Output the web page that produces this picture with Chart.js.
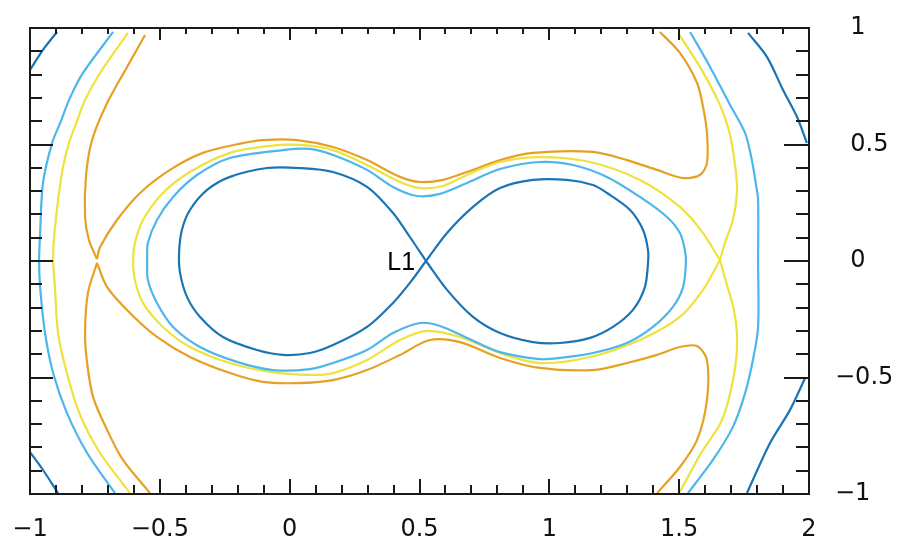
<!DOCTYPE html>
<html>
<head>
<meta charset="utf-8">
<script src="https://cdn.jsdelivr.net/npm/chart.js@4.4.1/dist/chart.umd.min.js"></script>
<style>
html,body{margin:0;padding:0;background:#fff;}
#wrap{width:898px;height:543px;}
</style>
</head>
<body>
<div id="wrap"><canvas id="c" width="898" height="543"></canvas></div>
<script>
// ---- axis ticks ----
const xTickValues = [-1, -0.5, 0, 0.5, 1, 1.5, 2];
const yTickValues = [-1, -0.5, 0, 0.5, 1];

// ---- annotation ----
const l1Label = "L1";
const l1LabelPos = [0.483, 0.0];

// ---- contour level 1 (dark blue) ----
const darkFigureEight = [[0.525,0.000],[0.463,0.103],[0.398,0.206],[0.298,0.318],[0.167,0.382],[0.040,0.399],[-0.087,0.399],[-0.230,0.361],[-0.318,0.305],[-0.384,0.219],[-0.415,0.133],[-0.426,0.034],[-0.422,-0.052],[-0.395,-0.155],[-0.345,-0.240],[-0.257,-0.326],[-0.126,-0.382],[-0.026,-0.403],[0.078,-0.395],[0.167,-0.361],[0.298,-0.283],[0.398,-0.180],[0.463,-0.094],[0.525,0.000],[0.606,0.120],[0.706,0.232],[0.810,0.313],[0.937,0.348],[1.068,0.348],[1.168,0.326],[1.222,0.292],[1.311,0.219],[1.361,0.133],[1.380,0.047],[1.380,-0.009],[1.368,-0.112],[1.322,-0.210],[1.245,-0.283],[1.157,-0.330],[1.041,-0.352],[0.937,-0.348],[0.810,-0.309],[0.706,-0.240],[0.606,-0.124],[0.525,0.000]];
const darkTopLeft = [[-0.896,0.983],[-0.950,0.906],[-1.0,0.820]];
const darkBottomLeft = [[-1.0,-0.820],[-0.950,-0.897],[-0.892,-0.996]];
const darkTopRight = [[1.765,0.979],[1.838,0.876],[1.900,0.734],[1.954,0.618],[1.992,0.506]];
const darkBottomRight = [[1.985,-0.502],[1.927,-0.639],[1.850,-0.781],[1.761,-0.996]];

// ---- contour level 2 (light blue) ----
const lightInner = [[-0.549,0.004],[-0.546,0.077],[-0.511,0.176],[-0.449,0.275],[-0.357,0.369],[-0.230,0.442],[-0.026,0.476],[0.078,0.481],[0.167,0.455],[0.298,0.391],[0.398,0.318],[0.490,0.279],[0.579,0.288],[0.683,0.335],[0.810,0.395],[0.964,0.425],[1.091,0.412],[1.222,0.361],[1.349,0.275],[1.453,0.189],[1.503,0.120],[1.522,0.047],[1.526,-0.009],[1.515,-0.112],[1.476,-0.197],[1.399,-0.283],[1.299,-0.352],[1.168,-0.395],[1.041,-0.416],[0.964,-0.421],[0.810,-0.391],[0.683,-0.330],[0.579,-0.279],[0.502,-0.266],[0.398,-0.309],[0.298,-0.382],[0.167,-0.438],[0.078,-0.464],[-0.064,-0.468],[-0.203,-0.433],[-0.345,-0.369],[-0.449,-0.283],[-0.511,-0.180],[-0.546,-0.082],[-0.549,0.004]];
const lightOuterLeft = [[-0.680,0.983],[-0.796,0.807],[-0.846,0.700],[-0.884,0.592],[-0.915,0.506],[-0.950,0.335],[-0.961,0.120],[-0.965,0.004],[-0.961,-0.112],[-0.942,-0.309],[-0.911,-0.481],[-0.858,-0.652],[-0.780,-0.824],[-0.673,-0.996]];
const lightOuterRight = [[1.542,0.983],[1.619,0.833],[1.696,0.670],[1.754,0.549],[1.780,0.433],[1.796,0.326],[1.804,0.262],[1.804,0.004],[1.804,-0.283],[1.784,-0.425],[1.754,-0.567],[1.707,-0.712],[1.630,-0.854],[1.534,-0.996]];

// ---- contour level 3 (yellow) ----
const yellowInner = [[1.657,0.004],[1.592,0.120],[1.503,0.232],[1.349,0.348],[1.157,0.425],[0.964,0.446],[0.810,0.425],[0.683,0.369],[0.590,0.322],[0.502,0.313],[0.425,0.339],[0.298,0.412],[0.167,0.476],[0.040,0.498],[-0.076,0.494],[-0.230,0.464],[-0.384,0.382],[-0.488,0.292],[-0.565,0.176],[-0.596,0.077],[-0.603,0.004],[-0.596,-0.082],[-0.565,-0.180],[-0.488,-0.283],[-0.384,-0.369],[-0.230,-0.438],[-0.076,-0.476],[0.078,-0.489],[0.167,-0.481],[0.298,-0.425],[0.425,-0.339],[0.529,-0.300],[0.656,-0.326],[0.810,-0.395],[0.964,-0.438],[1.157,-0.412],[1.349,-0.339],[1.503,-0.240],[1.592,-0.124],[1.657,0.004]];
const yellowOuterLeft = [[-0.623,0.979],[-0.730,0.807],[-0.788,0.691],[-0.822,0.592],[-0.850,0.506],[-0.877,0.378],[-0.906,0.120],[-0.911,0.004],[-0.904,-0.112],[-0.892,-0.309],[-0.858,-0.481],[-0.807,-0.661],[-0.730,-0.824],[-0.615,-0.996]];
const yellowOuterRightTop = [[1.496,0.979],[1.580,0.833],[1.657,0.670],[1.696,0.541],[1.715,0.412],[1.723,0.305],[1.707,0.176],[1.676,0.077],[1.657,0.004]];
const yellowOuterRightBottom = [[1.657,0.004],[1.684,-0.103],[1.711,-0.210],[1.723,-0.339],[1.711,-0.489],[1.665,-0.682],[1.580,-0.833],[1.503,-0.991]];

// ---- contour level 4 (orange) ----
const orangeOuterLeftTop = [[-0.557,0.970],[-0.626,0.833],[-0.703,0.678],[-0.761,0.519],[-0.784,0.369],[-0.788,0.189],[-0.773,0.090],[-0.742,0.008]];
const orangeOuterLeftBottom = [[-0.742,-0.008],[-0.777,-0.137],[-0.788,-0.309],[-0.780,-0.438],[-0.757,-0.584],[-0.703,-0.725],[-0.642,-0.854],[-0.538,-0.996]];
const orangeTop = [[-0.742,0.008],[-0.730,0.060],[-0.665,0.176],[-0.576,0.292],[-0.461,0.391],[-0.334,0.464],[-0.180,0.506],[-0.103,0.519],[0.028,0.519],[0.167,0.489],[0.298,0.433],[0.425,0.361],[0.502,0.339],[0.590,0.348],[0.683,0.382],[0.810,0.433],[0.937,0.464],[1.168,0.468],[1.299,0.433],[1.415,0.391],[1.515,0.356],[1.580,0.369],[1.607,0.421],[1.607,0.549],[1.592,0.661],[1.569,0.764],[1.503,0.893],[1.426,0.983]];
const orangeBottom = [[-0.742,-0.008],[-0.703,-0.112],[-0.615,-0.223],[-0.511,-0.326],[-0.384,-0.412],[-0.230,-0.481],[-0.103,-0.519],[0.028,-0.524],[0.167,-0.511],[0.298,-0.468],[0.425,-0.403],[0.540,-0.339],[0.656,-0.348],[0.810,-0.416],[0.964,-0.459],[1.168,-0.468],[1.299,-0.438],[1.415,-0.403],[1.503,-0.369],[1.569,-0.365],[1.607,-0.425],[1.607,-0.597],[1.569,-0.768],[1.503,-0.884],[1.415,-0.996]];

const COLORS = {dark:'#1b74b4', light:'#4db6ea', yellow:'#eee23e', orange:'#e6a124'};

const curves = [
  [darkFigureEight,'dark'],[darkTopLeft,'dark'],[darkBottomLeft,'dark'],[darkTopRight,'dark'],[darkBottomRight,'dark'],
  [lightInner,'light'],[lightOuterLeft,'light'],[lightOuterRight,'light'],
  [yellowInner,'yellow'],[yellowOuterLeft,'yellow'],[yellowOuterRightTop,'yellow'],[yellowOuterRightBottom,'yellow'],
  [orangeOuterLeftTop,'orange'],[orangeOuterLeftBottom,'orange'],[orangeTop,'orange'],[orangeBottom,'orange']
];

const datasets = curves.map(([pts,c]) => ({
  data: pts.map(p => ({x:p[0], y:p[1]})),
  showLine: true,
  borderColor: COLORS[c],
  borderWidth: 2.2,
  pointRadius: 0,
  tension: 0.3,
  fill: false
}));

const fmtX = v => (v < 0 ? '\u2212' : '') + Math.abs(v);
const fmtY = v => (v < 0 ? '\u2212' : '\u2007') + Math.abs(v);

const frameTicks = {
  id: 'frameTicks',
  afterDatasetsDraw(chart) {
    const ctx = chart.ctx, xs = chart.scales.x, ys = chart.scales.y, a = chart.chartArea;
    ctx.save();
    ctx.strokeStyle = '#1a1a1a';
    ctx.lineWidth = 2;
    ctx.strokeRect(a.left, a.top, a.right - a.left, a.bottom - a.top);
    ctx.beginPath();
    for (let i = 0; i <= 30; i++) {
      const v = xs.min + i * 0.1;
      const major = i % 5 === 0;
      const px = Math.round(xs.getPixelForValue(v));
      ctx.moveTo(px, a.top); ctx.lineTo(px, a.top + (major ? 12 : 6));
      ctx.moveTo(px, a.bottom); ctx.lineTo(px, a.bottom - (major ? 15 : 9));
    }
    for (let i = 0; i <= 20; i++) {
      const v = ys.min + i * 0.1;
      const major = i % 5 === 0;
      const py = Math.round(ys.getPixelForValue(v));
      ctx.moveTo(a.left, py); ctx.lineTo(a.left + (major ? 23 : 12), py);
      ctx.moveTo(a.right, py); ctx.lineTo(a.right - (major ? 25 : 13), py);
    }
    ctx.stroke();
    // L1 annotation
    ctx.fillStyle = '#000';
    ctx.font = '25px "Liberation Sans", Arial, sans-serif';
    ctx.textAlign = 'right';
    ctx.textBaseline = 'middle';
    ctx.fillText(l1Label, xs.getPixelForValue(l1LabelPos[0]), ys.getPixelForValue(l1LabelPos[1]) + 2);
    ctx.restore();
  }
};

new Chart(document.getElementById('c'), {
  type: 'scatter',
  data: { datasets },
  options: {
    responsive: false,
    animation: false,
    devicePixelRatio: 1,
    layout: { padding: { left: 30, top: 28, right: 0, bottom: 0 } },
    plugins: { legend: { display: false }, tooltip: { enabled: false } },
    scales: {
      x: {
        type: 'linear', position: 'bottom', min: -1, max: 2,
        afterBuildTicks: s => { s.ticks = xTickValues.map(v => ({value: v})); },
        afterFit: s => { s.height = 49; s.paddingLeft = 0; s.paddingRight = 0; s.paddingTop = 0; s.paddingBottom = 0; },
        grid: { display: false, drawTicks: false },
        border: { display: false },
        ticks: { autoSkip: false, maxRotation: 0, padding: 21, color: '#111',
                 font: { family: '"DejaVu Sans"', size: 24 }, callback: v => fmtX(v) }
      },
      y: {
        type: 'linear', position: 'right', min: -1, max: 1,
        afterBuildTicks: s => { s.ticks = yTickValues.map(v => ({value: v})); },
        afterFit: s => { s.width = 89; s.paddingTop = 0; s.paddingBottom = 0; s.paddingLeft = 0; s.paddingRight = 0; },
        grid: { display: false, drawTicks: false },
        border: { display: false },
        ticks: { autoSkip: false, padding: 26, color: '#111',
                 font: { family: '"DejaVu Sans"', size: 24 }, callback: v => fmtY(v) }
      }
    }
  },
  plugins: [frameTicks]
});
</script>
</body>
</html>
